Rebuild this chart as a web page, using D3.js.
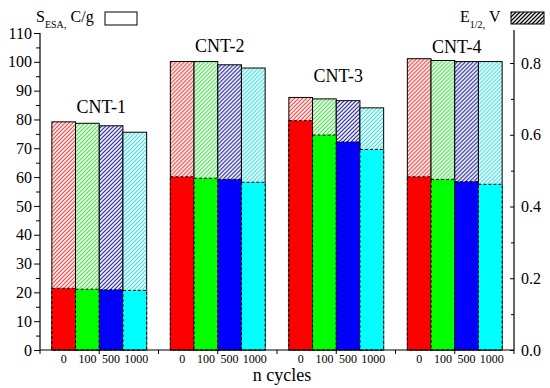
<!DOCTYPE html>
<html>
<head>
<meta charset="utf-8">
<script src="https://cdn.jsdelivr.net/npm/d3@7"></script>
</head>
<body style="margin:0">
<svg id="chart" width="550" height="388"></svg>
<script>
// ---- data ----
const groups = ["CNT-1", "CNT-2", "CNT-3", "CNT-4"];
const cycles = ["0", "100", "500", "1000"];
const colors = ["#ff0000", "#00ff00", "#0000ff", "#00ffff"];
const hatchColors = ["#f03838", "#40e040", "#1a1a9a", "#30e0e0"];
// S_ESA, C/g (left axis) — solid bars
const sesaCNT1 = [21.4, 21.1, 20.9, 20.7];
const sesaCNT2 = [60.1, 59.6, 59.2, 58.2];
const sesaCNT3 = [79.6, 74.6, 72.2, 69.6];
const sesaCNT4 = [60.1, 59.2, 58.4, 57.5];
// E1/2, V (right axis) — hatched bars
const eCNT1 = [0.636, 0.632, 0.625, 0.607];
const eCNT2 = [0.804, 0.804, 0.795, 0.786];
const eCNT3 = [0.704, 0.700, 0.695, 0.675];
const eCNT4 = [0.812, 0.807, 0.804, 0.804];
const leftTicks = [0, 10, 20, 30, 40, 50, 60, 70, 80, 90, 100, 110];
const rightTicks = [0.0, 0.2, 0.4, 0.6, 0.8];

const sesa = [sesaCNT1, sesaCNT2, sesaCNT3, sesaCNT4];
const e12 = [eCNT1, eCNT2, eCNT3, eCNT4];

// ---- layout ----
const L = 40, R = 514, B = 350;
const labelOffsets = [9, 10, 15, 6];

const svg = d3.select("#chart");
const defs = svg.append("defs");

function hatch(id, color, w) {
  const p = defs.append("pattern").attr("id", id)
    .attr("patternUnits", "userSpaceOnUse").attr("width", 4).attr("height", 4);
  p.append("rect").attr("width", 4).attr("height", 4).attr("fill", "#fff");
  p.append("path").attr("d", "M-1,1 l2,-2 M0,4 l4,-4 M3,5 l2,-2")
    .attr("stroke", color).attr("stroke-width", w);
}
hatchColors.forEach((c, i) => hatch("h" + i, c, 1.2));
hatch("hk", "#000", 1.3);

const x0 = d3.scaleBand().domain(groups).range([L, R]).paddingInner(0.2).paddingOuter(0.1);
const x1 = d3.scaleBand().domain(cycles).range([0, x0.bandwidth()]);
const yL = d3.scaleLinear().domain([0, 110]).range([B, 33]);
const yR = d3.scaleLinear().domain([0, 0.892]).range([B, 30]);

function txt(sel) { return sel.attr("font-family", "Liberation Serif").style("font-family", "Liberation Serif"); }

// bars
groups.forEach((g, gi) => {
  const gg = svg.append("g").attr("transform", `translate(${x0(g)},0)`);
  cycles.forEach((c, ci) => {
    gg.append("rect")
      .attr("x", x1(c)).attr("width", x1.bandwidth())
      .attr("y", yR(e12[gi][ci])).attr("height", B - yR(e12[gi][ci]))
      .attr("fill", `url(#h${ci})`).attr("stroke", "#000").attr("stroke-width", 1);
  });
  cycles.forEach((c, ci) => {
    gg.append("rect")
      .attr("x", x1(c)).attr("width", x1.bandwidth())
      .attr("y", yL(sesa[gi][ci])).attr("height", B - yL(sesa[gi][ci]))
      .attr("fill", colors[ci]).attr("stroke", "#000").attr("stroke-width", 1)
      .attr("stroke-dasharray", "3,2");
  });
  cycles.forEach((c, ci) => {
    txt(svg.append("text")).attr("x", x0(g) + x1(c) + x1.bandwidth() / 2 + (ci === 3 ? 1.5 : 0)).attr("y", 363)
      .attr("text-anchor", "middle").attr("font-size", 12).text(c);
  });
  const top = yR(d3.max(e12[gi]));
  txt(svg.append("text")).attr("x", x0(g) + x0.bandwidth() / 2 + 2).attr("y", top - labelOffsets[gi])
    .attr("text-anchor", "middle").attr("font-size", 18).text(g);
});

// left axis
const lAx = svg.append("g").attr("transform", `translate(${L},0)`)
  .call(d3.axisLeft(yL).tickValues(leftTicks).tickSize(6).tickPadding(2).tickFormat(d3.format("d")));
lAx.append("g").call(d3.axisLeft(yL).tickValues(d3.range(5, 110, 10)).tickSize(4).tickFormat(""));
// right axis
const rAx = svg.append("g").attr("transform", `translate(${R},0)`)
  .call(d3.axisRight(yR).tickValues(rightTicks).tickSizeInner(-4).tickSizeOuter(0).tickPadding(7).tickFormat(d3.format(".1f")));
rAx.append("g").call(d3.axisRight(yR).tickValues([0.1, 0.3, 0.5, 0.7]).tickSizeInner(-3).tickSizeOuter(0).tickFormat(""));
[lAx, rAx].forEach(a => {
  txt(a);
  txt(a.selectAll("text")).attr("font-size", 16).attr("fill", "#000");
  a.selectAll("line").attr("stroke", "#000");
  a.selectAll("path.domain").remove();
});
svg.append("line").attr("x1", L).attr("x2", L).attr("y1", 33).attr("y2", B).attr("stroke", "#000").attr("stroke-width", 1.2);
svg.append("line").attr("x1", R).attr("x2", R).attr("y1", 30).attr("y2", B).attr("stroke", "#000").attr("stroke-width", 1.2);

// bottom axis
svg.append("line").attr("x1", L).attr("x2", R).attr("y1", B).attr("y2", B).attr("stroke", "#000").attr("stroke-width", 1.2);
const step = x0.step();
const xt = [];
groups.forEach(g => {
  const c = x0(g) + x0.bandwidth() / 2;
  xt.push(c - step / 2, c);
});
xt.push(R);
svg.selectAll("line.xt").data(xt).enter().append("line").attr("class", "xt")
  .attr("x1", d => d).attr("x2", d => d).attr("y1", B).attr("y2", B + 4)
  .attr("stroke", "#000").attr("stroke-width", 1);

txt(svg.append("text")).attr("x", 282).attr("y", 381).attr("text-anchor", "middle")
  .attr("font-size", 18).text("n cycles");

// legends
const t1 = txt(svg.append("text")).attr("x", 36).attr("y", 22).attr("font-size", 16);
t1.append("tspan").text("S");
t1.append("tspan").attr("font-size", 10).attr("dy", 6).text("ESA");
t1.append("tspan").attr("font-size", 11).text(",");
t1.append("tspan").attr("dy", -6).text(" C/g");
svg.append("rect").attr("x", 105).attr("y", 12).attr("width", 32).attr("height", 13)
  .attr("fill", "#fff").attr("stroke", "#000").attr("stroke-width", 1);

const t2 = txt(svg.append("text")).attr("x", 460).attr("y", 22).attr("font-size", 16);
t2.append("tspan").text("E");
t2.append("tspan").attr("font-size", 10).attr("dy", 6).text("1/2");
t2.append("tspan").attr("font-size", 11).text(",");
t2.append("tspan").attr("dy", -6).text(" V");
svg.append("rect").attr("x", 511).attr("y", 12).attr("width", 33).attr("height", 12)
  .attr("fill", "url(#hk)").attr("stroke", "#000").attr("stroke-width", 1);
</script>
</body>
</html>
